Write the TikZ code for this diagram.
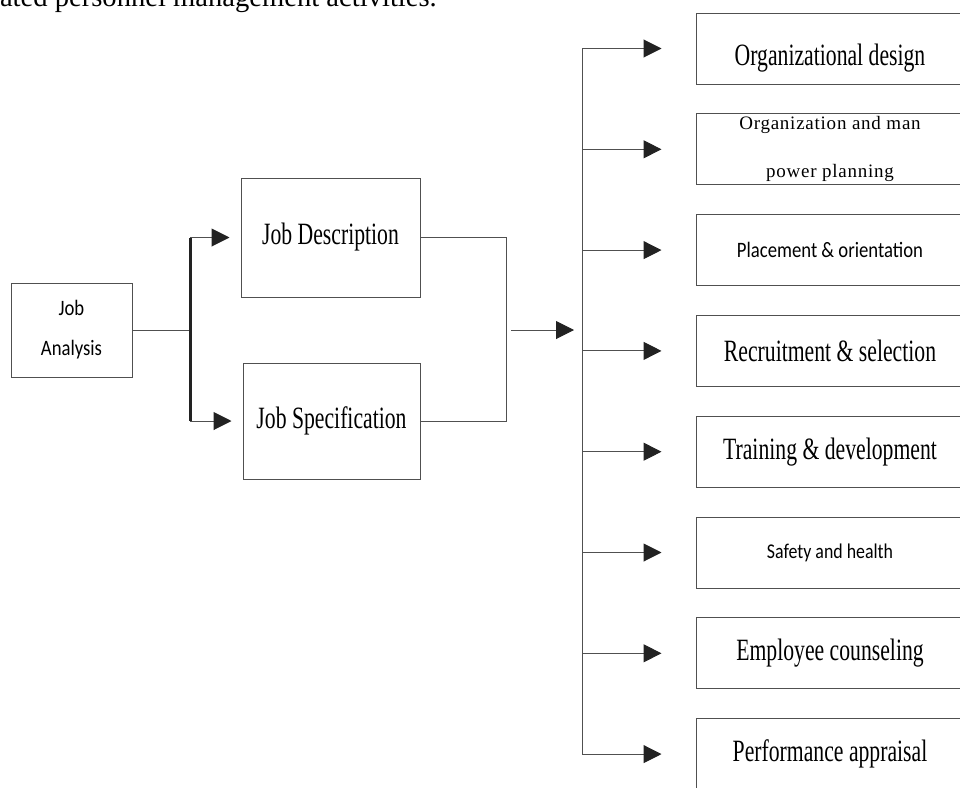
\documentclass[tikz,border=0pt]{standalone}
\usepackage{fontspec}
\usepackage{tikz}
\usetikzlibrary{positioning, arrows.meta}
\setmainfont{Liberation Serif}
\newfontfamily\condserif[FakeStretch=0.7]{Liberation Serif}
\newfontfamily\condsans[FakeStretch=0.85]{Carlito}
\newfontfamily\wideserif[LetterSpace=4]{Liberation Serif}
\definecolor{boxgray}{HTML}{505050}
\definecolor{tipgray}{HTML}{222222}
\tikzset {
    x=1pt, y=-1pt,
    >={Triangle[length=18pt, width=18pt, color=tipgray]},
    node distance=100.8pt,
    box/.style={draw=boxgray, line width=1pt, inner sep=0pt},
    actbox/.style={box, minimum width=268pt, minimum height=71pt},
    serifbig/.style={font=\condserif\fontsize{31}{34}\selectfont},
    sanstext/.style={font=\condsans\fontsize{22}{40}\selectfont, align=center},
    conn/.style={draw=boxgray, line width=1pt},
    bar/.style={draw=tipgray, line width=3pt}
}

\begin{document}
\begin{tikzpicture}
    \useasboundingbox (0,0) rectangle (960,787);
    \clip (0,0) rectangle (960,787);

    % text above the chart, cut at the top edge
    \node[anchor=base east, inner sep=0pt, font=\fontsize{28.6}{32}\selectfont] (intro) at (437,6.7) {related personnel management activities.};

    % left part
    \node[box, sanstext, minimum width=121pt, minimum height=94pt] (ja) at (71.5,330) {Job\\Analysis};
    \node[box, serifbig, minimum width=179pt, minimum height=119pt] (jd) at (330.5,237.5) {Job Description};
    \node[box, serifbig, minimum width=177pt, minimum height=116pt] (js) at (331.5,421) {Job Specification};

    % activities
    \node[actbox, serifbig, text height=33pt, text depth=0pt] (a1) at (830,48.5) {Organizational design};
    \node[actbox, below of=a1, font=\wideserif\fontsize{19}{48}\selectfont, align=center] (a2) {Organization and man\\power planning};
    \node[actbox, below of=a2, sanstext] (a3) {Placement \& orientation};
    \node[actbox, below of=a3, serifbig] (a4) {Recruitment \& selection};
    \node[actbox, below of=a4, serifbig] (a5) {Training \& development};
    \node[actbox, below of=a5, sanstext, font=\condsans\fontsize{21}{24}\selectfont] (a6) {Safety and health};
    \node[actbox, below of=a6, serifbig] (a7) {Employee counseling};
    \node[actbox, below of=a7, serifbig] (a8) {Performance appraisal};

    \coordinate (split) at (190,330);
    \coordinate (merge) at (506,330);
    \coordinate (bus) at (582,330);

    \draw[conn] (ja.east) -- (split);
    \draw[bar] (split |- jd.west) -- (split |- js.west);
    \draw[conn, ->, shorten >=11pt] (split |- jd.west) -- (jd.west);
    \draw[conn, ->, shorten >=11pt] (split |- js.west) -- (js.west);
    \draw[conn] (jd.east) -| (merge |- js.east) -- (js.east);
    \draw[conn, ->, shorten >=8pt] ([xshift=5pt]merge) -- (bus);
    \draw[conn] (bus |- a1.west) -- (bus |- a8.west);
    \foreach \i in {1,...,8}
        \draw[conn, ->, shorten >=34pt] (bus |- a\i.west) -- (a\i.west);
\end{tikzpicture}
\end{document}
